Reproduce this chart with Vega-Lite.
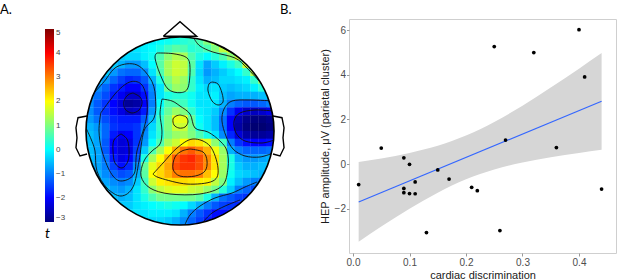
{
  "$schema": "https://vega.github.io/schema/vega-lite/v6.json",
  "padding": {"top": 3, "left": 0, "right": 0, "bottom": 0},
  "background": "white",
  "bounds": "flush",
  "spacing": 49,
  "config": {
    "view": {"stroke": null},
    "font": "Liberation Sans",
    "title": {"font": "Lato", "fontSize": 13, "fontWeight": "normal", "anchor": "start", "frame": "group", "offset": 2, "color": "#000000"}
  },
  "datasets": {
    "pts": [
      {"disc": 0.01, "hep": -0.92}, {"disc": 0.05, "hep": 0.72}, {"disc": 0.09, "hep": 0.28},
      {"disc": 0.10, "hep": -0.01}, {"disc": 0.09, "hep": -1.09}, {"disc": 0.09, "hep": -1.28},
      {"disc": 0.10, "hep": -1.32}, {"disc": 0.11, "hep": -1.33}, {"disc": 0.11, "hep": -0.80},
      {"disc": 0.13, "hep": -3.07}, {"disc": 0.15, "hep": -0.26}, {"disc": 0.17, "hep": -0.67},
      {"disc": 0.21, "hep": -1.04}, {"disc": 0.22, "hep": -1.19}, {"disc": 0.25, "hep": 5.27},
      {"disc": 0.26, "hep": -2.98}, {"disc": 0.27, "hep": 1.08}, {"disc": 0.32, "hep": 5.00},
      {"disc": 0.36, "hep": 0.74}, {"disc": 0.40, "hep": 6.03}, {"disc": 0.41, "hep": 3.91},
      {"disc": 0.44, "hep": -1.12}
    ],
    "band": [
      {"disc": 0.01, "hep": -3.48, "hi": 0.09},
      {"disc": 0.05, "hep": -2.80, "hi": 0.25},
      {"disc": 0.10, "hep": -2.00, "hi": 0.50},
      {"disc": 0.15, "hep": -1.28, "hi": 0.82},
      {"disc": 0.20, "hep": -0.68, "hi": 1.28},
      {"disc": 0.25, "hep": -0.24, "hi": 1.89},
      {"disc": 0.30, "hep": 0.07, "hi": 2.62},
      {"disc": 0.35, "hep": 0.31, "hi": 3.43},
      {"disc": 0.40, "hep": 0.50, "hi": 4.28},
      {"disc": 0.44, "hep": 0.64, "hi": 4.98}
    ],
    "shapes": [
      {"part": "earL", "i": 0, "u": -0.37, "v": 9.58},
      {"part": "earL", "i": 1, "u": -1.52, "v": 9.80},
      {"part": "earL", "i": 2, "u": -1.78, "v": 11.08},
      {"part": "earL", "i": 3, "u": -1.65, "v": 12.36},
      {"part": "earL", "i": 4, "u": -1.78, "v": 13.63},
      {"part": "earL", "i": 5, "u": -1.27, "v": 14.69},
      {"part": "earL", "i": 6, "u": -0.37, "v": 14.44},
      {"part": "earR", "i": 0, "u": 23.37, "v": 9.58},
      {"part": "earR", "i": 1, "u": 24.52, "v": 9.80},
      {"part": "earR", "i": 2, "u": 24.78, "v": 11.08},
      {"part": "earR", "i": 3, "u": 24.65, "v": 12.36},
      {"part": "earR", "i": 4, "u": 24.78, "v": 13.63},
      {"part": "earR", "i": 5, "u": 24.27, "v": 14.69},
      {"part": "earR", "i": 6, "u": 23.37, "v": 14.44},
      {"part": "nose", "i": 0, "u": 9.37, "v": -0.6},
      {"part": "nose", "i": 1, "u": 11.5, "v": -2.45},
      {"part": "nose", "i": 2, "u": 13.63, "v": -0.6},
      {"part": "nose", "i": 3, "u": 9.37, "v": -0.6}
    ],
    "contours": [
      {"c": "C1", "i": 0, "u": 0.52, "v": 6.65}, {"c": "C1", "i": 1, "u": 1.80, "v": 5.21}, {"c": "C1", "i": 2, "u": 3.46, "v": 3.29},
      {"c": "C1", "i": 3, "u": 6.01, "v": 3.07}, {"c": "C1", "i": 4, "u": 7.93, "v": 5.21}, {"c": "C1", "i": 5, "u": 8.40, "v": 7.76},
      {"c": "C1", "i": 6, "u": 8.18, "v": 9.84}, {"c": "C1", "i": 7, "u": 6.90, "v": 11.50}, {"c": "C1", "i": 8, "u": 6.27, "v": 15.33},
      {"c": "C1", "i": 9, "u": 5.50, "v": 18.65}, {"c": "C1", "i": 10, "u": 3.97, "v": 19.80}, {"c": "C1", "i": 11, "u": 2.18, "v": 18.78},
      {"c": "C1", "i": 12, "u": 0.90, "v": 16.61}, {"c": "C1", "i": 13, "u": 0.65, "v": 14.05}, {"c": "C1", "i": 14, "u": 0.14, "v": 12.52},
      {"c": "C1", "i": 15, "u": -0.44, "v": 11.25},
      {"c": "C2", "i": 0, "u": 1.38, "v": 9.20}, {"c": "C2", "i": 1, "u": 3.46, "v": 6.48}, {"c": "C2", "i": 2, "u": 5.21, "v": 5.21},
      {"c": "C2", "i": 3, "u": 6.65, "v": 5.63}, {"c": "C2", "i": 4, "u": 7.29, "v": 7.76}, {"c": "C2", "i": 5, "u": 7.12, "v": 10.31},
      {"c": "C2", "i": 6, "u": 6.01, "v": 14.05}, {"c": "C2", "i": 7, "u": 5.63, "v": 16.99}, {"c": "C2", "i": 8, "u": 3.93, "v": 17.88},
      {"c": "C2", "i": 9, "u": 2.65, "v": 16.82}, {"c": "C2", "i": 10, "u": 1.54, "v": 14.05}, {"c": "C2", "i": 11, "u": 1.16, "v": 11.50},
      {"c": "C2", "i": 12, "u": 1.38, "v": 9.20},
      {"c": "C3", "i": 0, "u": 5.50, "v": 6.65}, {"c": "C3", "i": 1, "u": 6.39, "v": 7.16}, {"c": "C3", "i": 2, "u": 6.65, "v": 7.93},
      {"c": "C3", "i": 3, "u": 6.27, "v": 8.82}, {"c": "C3", "i": 4, "u": 5.37, "v": 9.20}, {"c": "C3", "i": 5, "u": 4.48, "v": 8.69},
      {"c": "C3", "i": 6, "u": 4.35, "v": 7.67}, {"c": "C3", "i": 7, "u": 4.86, "v": 6.90}, {"c": "C3", "i": 8, "u": 5.50, "v": 6.65},
      {"c": "C4", "i": 0, "u": 3.97, "v": 11.88}, {"c": "C4", "i": 1, "u": 4.73, "v": 12.52}, {"c": "C4", "i": 2, "u": 4.99, "v": 13.80},
      {"c": "C4", "i": 3, "u": 4.86, "v": 15.33}, {"c": "C4", "i": 4, "u": 4.10, "v": 16.22}, {"c": "C4", "i": 5, "u": 3.20, "v": 15.59},
      {"c": "C4", "i": 6, "u": 2.95, "v": 14.05}, {"c": "C4", "i": 7, "u": 3.07, "v": 12.65}, {"c": "C4", "i": 8, "u": 3.97, "v": 11.88},
      {"c": "C5", "i": 0, "u": 23.50, "v": 7.67}, {"c": "C5", "i": 1, "u": 20.44, "v": 7.54}, {"c": "C5", "i": 2, "u": 18.14, "v": 7.67},
      {"c": "C5", "i": 3, "u": 17.12, "v": 8.69}, {"c": "C5", "i": 4, "u": 16.86, "v": 10.22}, {"c": "C5", "i": 5, "u": 17.37, "v": 12.14},
      {"c": "C5", "i": 6, "u": 18.27, "v": 13.80}, {"c": "C5", "i": 7, "u": 19.80, "v": 14.69}, {"c": "C5", "i": 8, "u": 21.71, "v": 14.82},
      {"c": "C5", "i": 9, "u": 23.37, "v": 14.31},
      {"c": "C6", "i": 0, "u": 23.50, "v": 8.95}, {"c": "C6", "i": 1, "u": 21.08, "v": 8.82}, {"c": "C6", "i": 2, "u": 19.16, "v": 9.20},
      {"c": "C6", "i": 3, "u": 18.40, "v": 10.22}, {"c": "C6", "i": 4, "u": 18.65, "v": 11.76}, {"c": "C6", "i": 5, "u": 19.80, "v": 12.78},
      {"c": "C6", "i": 6, "u": 21.97, "v": 13.03}, {"c": "C6", "i": 7, "u": 23.50, "v": 12.65},
      {"c": "C7", "i": 0, "u": 8.56, "v": 1.54}, {"c": "C7", "i": 1, "u": 8.31, "v": 2.18}, {"c": "C7", "i": 2, "u": 8.95, "v": 4.22},
      {"c": "C7", "i": 3, "u": 9.97, "v": 6.14}, {"c": "C7", "i": 4, "u": 11.50, "v": 6.61}, {"c": "C7", "i": 5, "u": 12.52, "v": 5.97},
      {"c": "C7", "i": 6, "u": 12.78, "v": 3.42}, {"c": "C7", "i": 7, "u": 12.36, "v": 2.14}, {"c": "C7", "i": 8, "u": 10.61, "v": 1.63},
      {"c": "C7", "i": 9, "u": 8.56, "v": 1.54},
      {"c": "C8", "i": 0, "u": 13.29, "v": -0.31}, {"c": "C8", "i": 1, "u": 14.05, "v": 0.65}, {"c": "C8", "i": 2, "u": 15.71, "v": 1.42},
      {"c": "C8", "i": 3, "u": 18.52, "v": 2.18}, {"c": "C8", "i": 4, "u": 20.05, "v": 3.46}, {"c": "C8", "i": 5, "u": 21.71, "v": 5.25},
      {"c": "C9", "i": 0, "u": 15.71, "v": 0.27}, {"c": "C9", "i": 1, "u": 17.88, "v": 1.42}, {"c": "C9", "i": 2, "u": 19.80, "v": 2.69},
      {"c": "C9", "i": 3, "u": 21.08, "v": 4.22},
      {"c": "C11", "i": 0, "u": 15.59, "v": 5.25}, {"c": "C11", "i": 1, "u": 16.35, "v": 5.50}, {"c": "C11", "i": 2, "u": 16.86, "v": 6.65},
      {"c": "C11", "i": 3, "u": 16.99, "v": 7.80}, {"c": "C11", "i": 4, "u": 16.35, "v": 8.18}, {"c": "C11", "i": 5, "u": 15.59, "v": 7.67},
      {"c": "C11", "i": 6, "u": 15.08, "v": 6.39}, {"c": "C11", "i": 7, "u": 15.20, "v": 5.50}, {"c": "C11", "i": 8, "u": 15.59, "v": 5.25},
      {"c": "C12", "i": 0, "u": 11.50, "v": 9.46}, {"c": "C12", "i": 1, "u": 12.27, "v": 9.71}, {"c": "C12", "i": 2, "u": 12.52, "v": 10.35},
      {"c": "C12", "i": 3, "u": 12.14, "v": 10.99}, {"c": "C12", "i": 4, "u": 11.37, "v": 11.12}, {"c": "C12", "i": 5, "u": 10.73, "v": 10.73},
      {"c": "C12", "i": 6, "u": 10.61, "v": 9.97}, {"c": "C12", "i": 7, "u": 10.99, "v": 9.59}, {"c": "C12", "i": 8, "u": 11.50, "v": 9.46},
      {"c": "C13", "i": 0, "u": 9.20, "v": 7.42}, {"c": "C13", "i": 1, "u": 10.48, "v": 7.67}, {"c": "C13", "i": 2, "u": 11.50, "v": 8.31},
      {"c": "C13", "i": 3, "u": 12.78, "v": 9.33}, {"c": "C13", "i": 4, "u": 13.42, "v": 11.12}, {"c": "C13", "i": 5, "u": 15.08, "v": 11.63},
      {"c": "C13", "i": 6, "u": 16.61, "v": 12.78}, {"c": "C13", "i": 7, "u": 17.50, "v": 14.05}, {"c": "C13", "i": 8, "u": 17.63, "v": 16.22},
      {"c": "C13", "i": 9, "u": 16.86, "v": 18.52}, {"c": "C13", "i": 10, "u": 14.05, "v": 19.54}, {"c": "C13", "i": 11, "u": 10.22, "v": 19.54},
      {"c": "C13", "i": 12, "u": 7.67, "v": 18.78}, {"c": "C13", "i": 13, "u": 6.52, "v": 17.25}, {"c": "C13", "i": 14, "u": 6.90, "v": 15.33},
      {"c": "C13", "i": 15, "u": 7.93, "v": 14.05}, {"c": "C13", "i": 16, "u": 8.95, "v": 13.16}, {"c": "C13", "i": 17, "u": 9.20, "v": 11.50},
      {"c": "C13", "i": 18, "u": 8.95, "v": 9.33}, {"c": "C13", "i": 19, "u": 9.20, "v": 7.42},
      {"c": "C15", "i": 0, "u": 8.05, "v": 16.99}, {"c": "C15", "i": 1, "u": 9.33, "v": 15.59}, {"c": "C15", "i": 2, "u": 11.12, "v": 13.67},
      {"c": "C15", "i": 3, "u": 13.16, "v": 12.52}, {"c": "C15", "i": 4, "u": 15.33, "v": 13.42}, {"c": "C15", "i": 5, "u": 16.35, "v": 16.22},
      {"c": "C15", "i": 6, "u": 15.71, "v": 17.88}, {"c": "C15", "i": 7, "u": 12.39, "v": 18.27}, {"c": "C15", "i": 8, "u": 8.95, "v": 17.50},
      {"c": "C15", "i": 9, "u": 8.05, "v": 16.99},
      {"c": "C16", "i": 0, "u": 12.78, "v": 13.80}, {"c": "C16", "i": 1, "u": 14.44, "v": 14.18}, {"c": "C16", "i": 2, "u": 14.95, "v": 15.33},
      {"c": "C16", "i": 3, "u": 14.69, "v": 16.61}, {"c": "C16", "i": 4, "u": 13.42, "v": 17.25}, {"c": "C16", "i": 5, "u": 11.50, "v": 17.25},
      {"c": "C16", "i": 6, "u": 10.61, "v": 16.35}, {"c": "C16", "i": 7, "u": 10.86, "v": 14.82}, {"c": "C16", "i": 8, "u": 11.76, "v": 14.05},
      {"c": "C16", "i": 9, "u": 12.78, "v": 13.80},
      {"c": "C17", "i": 0, "u": 12.14, "v": 23.44}, {"c": "C17", "i": 1, "u": 12.78, "v": 22.23}, {"c": "C17", "i": 2, "u": 14.05, "v": 21.08},
      {"c": "C17", "i": 3, "u": 15.97, "v": 20.05}, {"c": "C17", "i": 4, "u": 18.14, "v": 19.42}, {"c": "C17", "i": 5, "u": 19.80, "v": 18.65},
      {"c": "C17", "i": 6, "u": 21.33, "v": 18.01},
      {"c": "C18", "i": 0, "u": 14.44, "v": 23.12}, {"c": "C18", "i": 1, "u": 15.59, "v": 21.97}, {"c": "C18", "i": 2, "u": 17.25, "v": 21.08},
      {"c": "C18", "i": 3, "u": 19.16, "v": 20.31}
    ],
    "centre": [{"u": 11.5, "v": 11.5}]
  },
  "hconcat": [
    {
      "width": 300,
      "height": 261,
      "title": {"text": "A."},
      "layer": [
        {
          "data": {
            "values": "u,v,t\n7,0,-0.2\n8,0,-0.1\n9,0,0\n10,0,0.1\n11,0,0.2\n12,0,0.3\n13,0,0.4\n14,0,0.6\n15,0,1\n16,0,1.6\n5,1,-0.3\n6,1,-0.2\n7,1,-0.1\n8,1,0\n9,1,0.2\n10,1,0.5\n11,1,0.7\n12,1,0.6\n13,1,0.3\n14,1,0.4\n15,1,0.6\n16,1,1\n17,1,1.5\n18,1,1.9\n4,2,-0.4\n5,2,-0.3\n6,2,-0.3\n7,2,-0.1\n8,2,0.1\n9,2,0.6\n10,2,1.1\n11,2,1.4\n12,2,1.3\n13,2,0.6\n14,2,0.2\n15,2,0\n16,2,0.3\n17,2,0.6\n18,2,1.1\n19,2,1.6\n3,3,-0.4\n4,3,-0.6\n5,3,-0.8\n6,3,-0.8\n7,3,-0.5\n8,3,0\n9,3,0.7\n10,3,1.3\n11,3,1.6\n12,3,1.5\n13,3,0.7\n14,3,-0.2\n15,3,-0.7\n16,3,-0.4\n17,3,-0.1\n18,3,0.2\n19,3,0.5\n20,3,1.6\n2,4,-0.4\n3,4,-0.8\n4,4,-1.1\n5,4,-1.2\n6,4,-1.2\n7,4,-0.9\n8,4,-0.2\n9,4,0.6\n10,4,1.3\n11,4,1.6\n12,4,1.5\n13,4,0.6\n14,4,-0.3\n15,4,-0.8\n16,4,-0.6\n17,4,-0.4\n18,4,-0.2\n19,4,0\n20,4,0.4\n21,4,1.4\n1,5,-0.4\n2,5,-0.8\n3,5,-1.2\n4,5,-1.5\n5,5,-1.7\n6,5,-1.6\n7,5,-1.3\n8,5,-0.6\n9,5,0.2\n10,5,1\n11,5,1.4\n12,5,1.2\n13,5,0.4\n14,5,-0.2\n15,5,-0.6\n16,5,-0.5\n17,5,-0.3\n18,5,-0.3\n19,5,-0.2\n20,5,-0.1\n21,5,0.4\n22,5,1.2\n1,6,-0.9\n2,6,-1.2\n3,6,-1.6\n4,6,-1.8\n5,6,-2\n6,6,-2\n7,6,-1.6\n8,6,-0.9\n9,6,-0.2\n10,6,0.8\n11,6,1.2\n12,6,1.1\n13,6,0.4\n14,6,-0.1\n15,6,-0.3\n16,6,-0.2\n17,6,-0.4\n18,6,-0.5\n19,6,-0.4\n20,6,-0.3\n21,6,-0.1\n22,6,0.3\n0,7,-0.8\n1,7,-1.1\n2,7,-1.4\n3,7,-1.8\n4,7,-2.1\n5,7,-2.4\n6,7,-2.4\n7,7,-1.9\n8,7,-1\n9,7,-0.2\n10,7,0.2\n11,7,0.3\n12,7,0.3\n13,7,0.1\n14,7,-0.2\n15,7,-0.2\n16,7,-0.1\n17,7,-0.5\n18,7,-0.7\n19,7,-0.6\n20,7,-0.6\n21,7,-0.6\n22,7,-0.5\n23,7,-0.4\n0,8,-0.9\n1,8,-1.3\n2,8,-1.6\n3,8,-2\n4,8,-2.3\n5,8,-2.8\n6,8,-2.7\n7,8,-2\n8,8,-1\n9,8,0\n10,8,0.6\n11,8,0.6\n12,8,0.5\n13,8,0.1\n14,8,-0.2\n15,8,-0.2\n16,8,-0.2\n17,8,-0.6\n18,8,-1\n19,8,-1.2\n20,8,-1.3\n21,8,-1.3\n22,8,-1.2\n23,8,-1\n0,9,-0.9\n1,9,-1.3\n2,9,-1.6\n3,9,-1.9\n4,9,-2.2\n5,9,-2.5\n6,9,-2.4\n7,9,-1.8\n8,9,-0.8\n9,9,0.2\n10,9,0.8\n11,9,1.2\n12,9,1\n13,9,0.4\n14,9,-0.1\n15,9,-0.2\n16,9,-0.4\n17,9,-0.9\n18,9,-1.6\n19,9,-2.1\n20,9,-2.4\n21,9,-2.5\n22,9,-2.4\n23,9,-2.2\n0,10,-0.8\n1,10,-1.1\n2,10,-1.4\n3,10,-1.7\n4,10,-1.8\n5,10,-1.8\n6,10,-1.8\n7,10,-1.3\n8,10,-0.5\n9,10,0.4\n10,10,1\n11,10,1.8\n12,10,1.8\n13,10,0.8\n14,10,0\n15,10,-0.2\n16,10,-0.5\n17,10,-1.1\n18,10,-2\n19,10,-2.6\n20,10,-2.9\n21,10,-3\n22,10,-3\n23,10,-2.9\n0,11,-0.6\n1,11,-0.8\n2,11,-1.2\n3,11,-1.6\n4,11,-1.7\n5,11,-1.7\n6,11,-1.6\n7,11,-1\n8,11,-0.3\n9,11,0.4\n10,11,1\n11,11,1.6\n12,11,1.6\n13,11,0.9\n14,11,0.1\n15,11,-0.2\n16,11,-0.5\n17,11,-1.1\n18,11,-2\n19,11,-2.7\n20,11,-3\n21,11,-3.1\n22,11,-3.1\n23,11,-3\n0,12,-0.5\n1,12,-0.7\n2,12,-1.2\n3,12,-1.8\n4,12,-2.1\n5,12,-2\n6,12,-1.6\n7,12,-0.9\n8,12,-0.2\n9,12,0.3\n10,12,0.9\n11,12,1.2\n12,12,1.3\n13,12,1\n14,12,0.6\n15,12,0.2\n16,12,-0.2\n17,12,-0.9\n18,12,-1.7\n19,12,-2.3\n20,12,-2.7\n21,12,-2.8\n22,12,-2.8\n23,12,-2.7\n0,13,-0.5\n1,13,-0.7\n2,13,-1.3\n3,13,-2\n4,13,-2.3\n5,13,-2.2\n6,13,-1.6\n7,13,-0.8\n8,13,0\n9,13,0.6\n10,13,1.3\n11,13,1.6\n12,13,2\n13,13,2.3\n14,13,2.2\n15,13,1.8\n16,13,1.1\n17,13,0.5\n18,13,-1\n19,13,-1.6\n20,13,-1.9\n21,13,-2\n22,13,-2\n23,13,-1.9\n0,14,-0.5\n1,14,-0.7\n2,14,-1.3\n3,14,-2\n4,14,-2.3\n5,14,-2.2\n6,14,-1.5\n7,14,-0.4\n8,14,0.6\n9,14,1.3\n10,14,2\n11,14,2.6\n12,14,3.1\n13,14,3.3\n14,14,3\n15,14,2.6\n16,14,1.9\n17,14,1.2\n18,14,-0.6\n19,14,-1\n20,14,-1.2\n21,14,-1.2\n22,14,-1.2\n23,14,-1.1\n0,15,-0.5\n1,15,-0.7\n2,15,-1.1\n3,15,-1.8\n4,15,-2.2\n5,15,-2\n6,15,-1.3\n7,15,0.2\n8,15,1.3\n9,15,2\n10,15,2.6\n11,15,3.3\n12,15,3.6\n13,15,3.7\n14,15,3.4\n15,15,2.9\n16,15,2.2\n17,15,1.3\n18,15,0.2\n19,15,-0.6\n20,15,-0.8\n21,15,-0.8\n22,15,-0.7\n23,15,-0.6\n0,16,-0.5\n1,16,-0.7\n2,16,-1\n3,16,-1.5\n4,16,-1.9\n5,16,-1.7\n6,16,-0.9\n7,16,0.8\n8,16,1.8\n9,16,2.3\n10,16,2.7\n11,16,3.4\n12,16,3.6\n13,16,3.6\n14,16,3.4\n15,16,2.9\n16,16,2.2\n17,16,1.3\n18,16,0.2\n19,16,-0.4\n20,16,-0.6\n21,16,-0.6\n22,16,-0.5\n23,16,-0.4\n1,17,-0.6\n2,17,-0.9\n3,17,-1.2\n4,17,-1.4\n5,17,-1.3\n6,17,-0.6\n7,17,0.7\n8,17,2\n9,17,2.3\n10,17,2.6\n11,17,3\n12,17,3.1\n13,17,3.1\n14,17,3\n15,17,2.5\n16,17,2\n17,17,1.2\n18,17,0.1\n19,17,-0.3\n20,17,-0.4\n21,17,-0.5\n22,17,-0.6\n1,18,-0.5\n2,18,-0.7\n3,18,-0.9\n4,18,-1\n5,18,-0.9\n6,18,-0.4\n7,18,0.5\n8,18,1.6\n9,18,2.1\n10,18,2.2\n11,18,2.3\n12,18,2.3\n13,18,2.2\n14,18,2.1\n15,18,2.1\n16,18,1.5\n17,18,1\n18,18,-0.1\n19,18,-0.5\n20,18,-0.8\n21,18,-1\n22,18,-1.1\n2,19,-0.5\n3,19,-0.7\n4,19,-0.8\n5,19,-0.6\n6,19,-0.2\n7,19,0.4\n8,19,1.1\n9,19,1.5\n10,19,1.7\n11,19,1.8\n12,19,1.8\n13,19,1.6\n14,19,1.5\n15,19,1.2\n16,19,0.9\n17,19,0.3\n18,19,-0.4\n19,19,-1\n20,19,-1.2\n21,19,-1.4\n3,20,-0.5\n4,20,-0.6\n5,20,-0.5\n6,20,-0.2\n7,20,0.2\n8,20,0.6\n9,20,0.9\n10,20,0.9\n11,20,0.9\n12,20,0.9\n13,20,0.9\n14,20,0.7\n15,20,0.2\n16,20,-0.6\n17,20,-1.1\n18,20,-1.3\n19,20,-1.5\n20,20,-1.6\n4,21,-0.4\n5,21,-0.4\n6,21,-0.2\n7,21,-0.1\n8,21,0\n9,21,0.1\n10,21,0.2\n11,21,0.1\n12,21,0\n13,21,-0.3\n14,21,-0.6\n15,21,-1\n16,21,-1.3\n17,21,-1.5\n18,21,-1.6\n19,21,-1.7\n5,22,-0.3\n6,22,-0.2\n7,22,-0.2\n8,22,-0.1\n9,22,-0.1\n10,22,-0.1\n11,22,-0.2\n12,22,-0.6\n13,22,-1\n14,22,-1.3\n15,22,-1.6\n16,22,-1.9\n17,22,-1.9\n18,22,-1.8\n7,23,-0.3\n8,23,-0.3\n9,23,-0.3\n10,23,-0.4\n11,23,-0.6\n12,23,-0.9\n13,23,-1.2\n14,23,-1.5\n15,23,-1.8\n16,23,-2",
            "format": {"type": "csv", "parse": {"u": "number", "v": "number", "t": "number"}}
          },
          "mark": {"type": "square", "size": 66, "opacity": 1, "strokeWidth": 0, "clip": true},
          "encoding": {
            "x": {"field": "u", "type": "quantitative", "scale": {"domain": [-11.48, 26.82], "nice": false, "zero": false}, "axis": null},
            "y": {"field": "v", "type": "quantitative", "scale": {"domain": [-2.798, 30.52], "nice": false, "zero": false, "reverse": true}, "axis": null},
            "color": {
              "field": "t", "type": "quantitative",
              "scale": {
                "domain": [-3, -2, -1, 0, 1, 2, 3, 4, 5],
                "range": ["#00007f", "#0000ff", "#007fff", "#00ffff", "#7fff7f", "#ffff00", "#ff7f00", "#ff0000", "#7f0000"],
                "interpolate": "rgb"
              },
              "legend": {
                "orient": "none", "legendX": 45, "legendY": 10, "direction": "vertical",
                "gradientLength": 193, "gradientThickness": 9, "gradientStrokeWidth": 0,
                "title": "t", "titleOrient": "bottom", "titleFont": "Lato", "titleFontStyle": "italic",
                "titleFontWeight": "normal", "titleFontSize": 14, "titlePadding": 5, "titleAnchor": "start", "titleColor": "#000000",
                "labelFontSize": 8, "labelColor": "#444444", "labelOffset": 2, "labelOverlap": false,
                "values": [-3, -2, -1, 0, 1, 2, 3, 4, 5], "padding": 0
              }
            }
          }
        },
        {
          "data": {"name": "contours"},
          "mark": {"type": "line", "color": "#111111", "strokeWidth": 0.9, "interpolate": "cardinal", "clip": true},
          "encoding": {
            "x": {"field": "u", "type": "quantitative", "scale": {"domain": [-11.48, 26.82], "nice": false, "zero": false}, "axis": null},
            "y": {"field": "v", "type": "quantitative", "scale": {"domain": [-2.798, 30.52], "nice": false, "zero": false, "reverse": true}, "axis": null},
            "detail": {"field": "c", "type": "nominal"},
            "order": {"field": "i", "type": "quantitative"}
          }
        },
        {
          "data": {"name": "centre"},
          "mark": {"type": "point", "shape": "circle", "filled": false, "size": 40000, "stroke": "#ffffff", "strokeWidth": 12, "opacity": 1, "clip": true},
          "encoding": {
            "x": {"field": "u", "type": "quantitative", "scale": {"domain": [-11.48, 26.82], "nice": false, "zero": false}, "axis": null},
            "y": {"field": "v", "type": "quantitative", "scale": {"domain": [-2.798, 30.52], "nice": false, "zero": false, "reverse": true}, "axis": null}
          }
        },
        {
          "data": {"name": "centre"},
          "mark": {"type": "point", "shape": "circle", "filled": false, "size": 35344, "stroke": "#000000", "strokeWidth": 1.6, "opacity": 1, "clip": true},
          "encoding": {
            "x": {"field": "u", "type": "quantitative", "scale": {"domain": [-11.48, 26.82], "nice": false, "zero": false}, "axis": null},
            "y": {"field": "v", "type": "quantitative", "scale": {"domain": [-2.798, 30.52], "nice": false, "zero": false, "reverse": true}, "axis": null}
          }
        },
        {
          "data": {"name": "shapes"},
          "mark": {"type": "line", "color": "#000000", "strokeWidth": 1.4, "clip": true},
          "encoding": {
            "x": {"field": "u", "type": "quantitative", "scale": {"domain": [-11.48, 26.82], "nice": false, "zero": false}, "axis": null},
            "y": {"field": "v", "type": "quantitative", "scale": {"domain": [-2.798, 30.52], "nice": false, "zero": false, "reverse": true}, "axis": null},
            "detail": {"field": "part", "type": "nominal"},
            "order": {"field": "i", "type": "quantitative"}
          }
        }
      ]
    },
    {
      "width": 267,
      "height": 234,
      "title": {"text": "B.", "dx": -69},
      "view": {"stroke": "#cfcfcf", "strokeWidth": 1},
      "data": {"name": "pts"},
      "encoding": {
        "x": {
          "field": "disc", "type": "quantitative",
          "scale": {"domain": [-0.0071, 0.4655], "nice": false, "zero": false},
          "axis": {"values": [0, 0.1, 0.2, 0.3, 0.4], "format": ".1f", "title": "cardiac discrimination", "grid": false, "domain": false,
                   "tickColor": "#999999", "tickSize": 3, "labelColor": "#4d4d4d", "labelFontSize": 10, "labelPadding": 1,
                   "titleFontSize": 11, "titleFontWeight": "normal", "titleColor": "#1a1a1a", "titlePadding": 2}
        },
        "y": {
          "field": "hep", "type": "quantitative",
          "scale": {"domain": [-3.987, 6.507], "nice": false, "zero": false},
          "axis": {"values": [-2, 0, 2, 4, 6], "title": "HEP amplitude, μV (parietal cluster)", "grid": false, "domain": false,
                   "tickColor": "#999999", "tickSize": 2.5, "labelColor": "#4d4d4d", "labelFontSize": 10, "labelPadding": 1,
                   "titleFontSize": 11, "titleFontWeight": "normal", "titleColor": "#1a1a1a", "titlePadding": 4}
        }
      },
      "layer": [
        {
          "data": {"name": "band"},
          "mark": {"type": "area", "color": "#d6d6d6", "opacity": 1, "interpolate": "monotone"},
          "encoding": {"y2": {"field": "hi"}}
        },
        {
          "transform": [{"regression": "hep", "on": "disc", "extent": [0.01, 0.44]}],
          "mark": {"type": "line", "color": "#3366ff", "strokeWidth": 1.1},
          "encoding": {}
        },
        {
          "mark": {"type": "circle", "size": 14, "color": "#000000", "opacity": 1},
          "encoding": {}
        }
      ]
    }
  ]
}
